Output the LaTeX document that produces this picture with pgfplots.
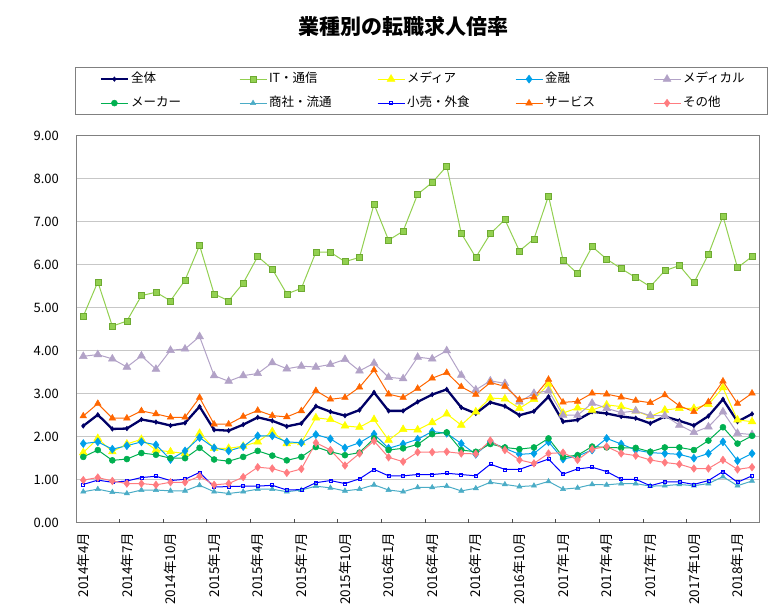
\documentclass[border=0pt]{standalone}
\usepackage{fontspec}
\setmainfont{Noto Sans CJK JP}
\usepackage{pgfplots}
\usepackage{pgfplotstable}
\pgfplotsset{compat=1.18}

\definecolor{allc}{RGB}{0,0,102}
\definecolor{itc}{RGB}{146,208,80}
\definecolor{itdark}{RGB}{110,170,50}
\definecolor{mediac}{RGB}{255,255,0}
\definecolor{finc}{RGB}{0,160,233}
\definecolor{medc}{RGB}{178,162,199}
\definecolor{makerc}{RGB}{0,176,80}
\definecolor{tradec}{RGB}{75,172,198}
\definecolor{retailc}{RGB}{0,0,255}
\definecolor{servc}{RGB}{255,102,0}
\definecolor{otherc}{RGB}{255,124,128}
\definecolor{framec}{RGB}{128,128,128}

% month index 0 = 2014/4 ... 46 = 2018/2
\pgfplotstableread{
m  all  it   media fin  med  maker trade retail serv other
0  2.25 4.80 1.63 1.84 3.87 1.53 0.72 0.89 2.48 0.99
1  2.51 5.60 1.96 1.88 3.91 1.69 0.78 0.99 2.77 1.05
2  2.18 4.57 1.65 1.71 3.81 1.45 0.71 0.94 2.43 0.97
3  2.19 4.69 1.83 1.79 3.62 1.48 0.68 0.97 2.43 0.91
4  2.40 5.28 1.94 1.88 3.88 1.62 0.76 1.05 2.60 0.91
5  2.34 5.36 1.69 1.81 3.57 1.58 0.76 1.08 2.53 0.88
6  2.26 5.16 1.65 1.47 4.01 1.50 0.74 0.98 2.45 0.94
7  2.32 5.64 1.61 1.67 4.04 1.50 0.74 1.01 2.45 0.94
8  2.70 6.45 2.08 1.98 4.33 1.74 0.87 1.17 2.91 1.08
9  2.16 5.32 1.73 1.74 3.42 1.47 0.72 0.83 2.29 0.88
10 2.14 5.16 1.73 1.67 3.29 1.43 0.68 0.84 2.29 0.91
11 2.28 5.57 1.78 1.77 3.42 1.53 0.72 0.85 2.47 1.06
12 2.45 6.19 1.88 2.02 3.47 1.67 0.78 0.85 2.61 1.29
13 2.37 5.90 2.12 2.02 3.72 1.56 0.78 0.87 2.49 1.26
14 2.24 5.32 1.84 1.88 3.58 1.45 0.72 0.76 2.46 1.16
15 2.31 5.45 1.86 1.86 3.64 1.53 0.76 0.77 2.60 1.25
16 2.71 6.29 2.44 2.05 3.62 1.76 0.85 0.93 3.07 1.86
17 2.58 6.29 2.40 1.95 3.68 1.65 0.81 0.98 2.87 1.69
18 2.49 6.07 2.25 1.74 3.80 1.57 0.74 0.91 2.91 1.33
19 2.62 6.17 2.22 1.86 3.53 1.63 0.78 1.02 3.15 1.61
20 3.03 7.41 2.40 2.06 3.71 1.96 0.88 1.24 3.55 1.90
21 2.60 6.57 1.92 1.73 3.38 1.69 0.76 1.09 2.99 1.52
22 2.60 6.78 2.17 1.83 3.35 1.73 0.72 1.09 2.91 1.42
23 2.81 7.64 2.16 1.94 3.85 1.82 0.82 1.12 3.12 1.64
24 2.98 7.91 2.33 2.12 3.81 2.06 0.82 1.12 3.36 1.64
25 3.10 8.29 2.53 2.08 4.00 2.10 0.85 1.15 3.49 1.65
26 2.68 6.73 2.27 1.84 3.43 1.69 0.74 1.12 3.16 1.61
27 2.54 6.17 2.58 1.59 3.09 1.65 0.80 1.09 2.98 1.60
28 2.80 6.72 2.90 1.88 3.30 1.83 0.94 1.36 3.26 1.91
29 2.71 7.05 2.88 1.73 3.24 1.75 0.89 1.24 3.17 1.69
30 2.50 6.32 2.66 1.59 2.81 1.71 0.84 1.24 2.86 1.46
31 2.59 6.60 2.87 1.61 3.01 1.75 0.86 1.36 2.92 1.38
32 2.93 7.60 3.22 1.88 3.07 1.96 0.96 1.48 3.33 1.61
33 2.35 6.11 2.55 1.48 2.50 1.53 0.78 1.13 2.80 1.63
34 2.39 5.79 2.67 1.55 2.50 1.57 0.81 1.25 2.82 1.46
35 2.58 6.42 2.62 1.69 2.78 1.77 0.89 1.29 3.01 1.71
36 2.54 6.13 2.74 1.96 2.66 1.75 0.88 1.19 2.99 1.77
37 2.47 5.91 2.70 1.83 2.56 1.74 0.91 1.01 2.92 1.61
38 2.43 5.70 2.60 1.69 2.60 1.74 0.91 1.01 2.84 1.56
39 2.31 5.49 2.47 1.63 2.49 1.65 0.85 0.86 2.79 1.46
40 2.47 5.86 2.62 1.61 2.49 1.75 0.86 0.95 2.97 1.40
41 2.37 5.98 2.66 1.59 2.27 1.75 0.89 0.95 2.72 1.36
42 2.26 5.58 2.66 1.50 2.10 1.69 0.86 0.89 2.58 1.26
43 2.48 6.24 2.75 1.61 2.23 1.91 0.91 0.98 2.81 1.26
44 2.87 7.13 3.14 1.88 2.58 2.22 1.07 1.19 3.29 1.46
45 2.35 5.93 2.39 1.44 2.08 1.84 0.86 0.94 2.77 1.24
46 2.53 6.19 2.35 1.61 2.05 2.02 0.97 1.09 3.01 1.29
}\jobdata

\begin{document}
\begin{tikzpicture}
\useasboundingbox (0bp,0bp) rectangle (776bp,615bp);
\node[font=\fontsize{21bp}{24bp}\selectfont\bfseries] at (403bp,589bp) {業種別の転職求人倍率};
\begin{axis}[
  at={(76bp,92.3bp)}, anchor=south west,
  scale only axis, width=683.3bp, height=387bp,
  xmin=-0.5, xmax=46.5, ymin=0, ymax=9,
  axis line style={draw=framec, line width=0.9bp},
  tick pos=left, tick align=inside,
  ytick={0,1,...,9},
  ytick style={draw=none},
  ymajorgrids,
  grid style={draw=black!22, line width=0.9bp},
  yticklabel style={font=\fontsize{13bp}{15bp}\selectfont, inner xsep=17bp,
    /pgf/number format/.cd, fixed, fixed zerofill, precision=2, assume math mode=true},
  xtick={0,3,...,45},
  xticklabels={2014年4月,2014年7月,2014年10月,2015年1月,2015年4月,2015年7月,2015年10月,2016年1月,2016年4月,2016年7月,2016年10月,2017年1月,2017年4月,2017年7月,2017年10月,2018年1月},
  xtick style={draw=none},
  xticklabel style={font=\fontsize{13.5bp}{15bp}\selectfont, rotate=90, anchor=east, inner xsep=10bp, inner ysep=0bp},
  extra x ticks={2.5,5.5,...,44.5},
  extra x tick labels={},
  extra x tick style={xtick style={draw=black!70, line width=0.8bp}, major tick length=4bp, grid=none},
  legend columns=5,
  legend cell align=left,
  legend style={at={(-0.001,1.1767)}, anchor=north west, draw=framec, line width=0.9bp,
    inner xsep=24bp, inner ysep=3.85bp, font=\fontsize{12.5bp}{14bp}\selectfont,
    /tikz/column sep=0bp, /tikz/row sep=9bp,
    nodes={text width=106bp, text height=10bp, text depth=3bp, inner xsep=2bp, inner ysep=1bp, align=left, anchor=west},
    /tikz/column 10/.style={nodes={text width=58bp}}},
  legend image code/.code={\draw[mark repeat=2,mark phase=2,#1] plot coordinates {(0bp,0bp) (13.5bp,0bp) (27bp,0bp)};},
]
\addplot[allc, line width=2.3bp, mark=diamond*, mark size=2.3bp, mark options={fill=allc, line width=0.5bp}] table[x=m,y=all] {\jobdata};
\addplot[itc, line width=1bp, mark=square*, mark size=3bp, mark options={fill=itc, draw=itdark, line width=0.6bp}] table[x=m,y=it] {\jobdata};
\addplot[mediac, line width=1bp, mark=triangle*, mark size=4.5bp, mark options={fill=mediac, line width=0.5bp}] table[x=m,y=media] {\jobdata};
\addplot[finc, line width=1bp, mark=diamond*, mark size=4bp, mark options={fill=finc, line width=0.5bp}] table[x=m,y=fin] {\jobdata};
\addplot[medc, line width=1bp, mark=triangle*, mark size=4.5bp, mark options={fill=medc, line width=0.5bp}] table[x=m,y=med] {\jobdata};
\addplot[makerc, line width=1bp, mark=*, mark size=3bp, mark options={fill=makerc, line width=0.5bp}] table[x=m,y=maker] {\jobdata};
\addplot[tradec, line width=1bp, mark=triangle*, mark size=3bp, mark options={fill=tradec, line width=0.5bp}] table[x=m,y=trade] {\jobdata};
\addplot[retailc, line width=1bp, mark=square, mark size=1.5bp, mark options={fill=white, line width=0.6bp}] table[x=m,y=retail] {\jobdata};
\addplot[servc, line width=1bp, mark=triangle*, mark size=3.8bp, mark options={fill=servc, line width=0.5bp}] table[x=m,y=serv] {\jobdata};
\addplot[otherc, line width=1bp, mark=diamond*, mark size=3.8bp, mark options={fill=otherc, line width=0.5bp}] table[x=m,y=other] {\jobdata};
\legend{全体,IT・通信,メディア,金融,メディカル,メーカー,商社・流通,小売・外食,サービス,その他}
\end{axis}
\end{tikzpicture}
\end{document}
